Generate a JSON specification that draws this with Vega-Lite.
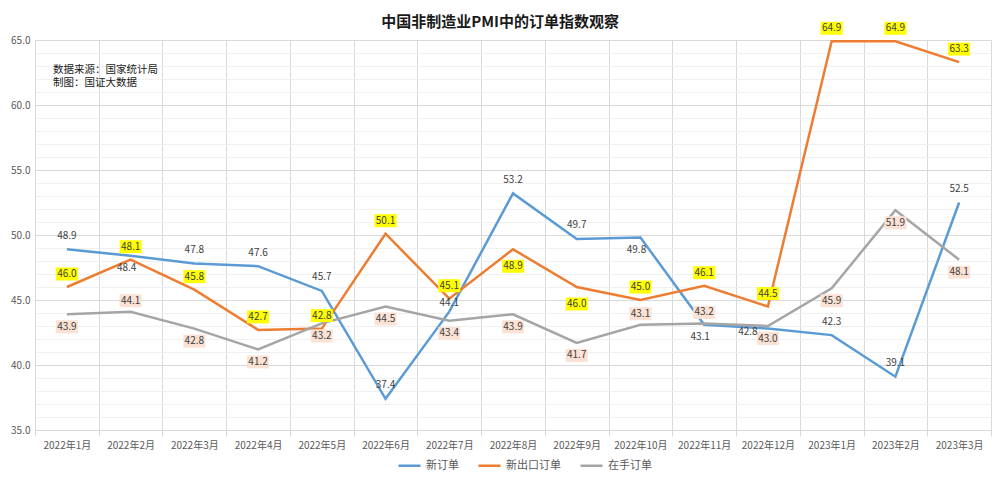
{
  "$schema": "https://vega.github.io/schema/vega-lite/v6.json",
  "width": 956,
  "height": 390,
  "autosize": {"type": "none"},
  "padding": {"left": 35, "top": 40, "right": 9, "bottom": 50},
  "background": "white",
  "title": {
    "text": "中国非制造业PMI中的订单指数观察",
    "font": "Noto Sans CJK SC",
    "fontSize": 15,
    "fontWeight": "bold",
    "color": "#1a1a1a",
    "anchor": "middle",
    "dx": -13,
    "offset": -8
  },
  "config": {
    "font": "Noto Sans CJK SC",
    "view": {"stroke": null},
    "axis": {"labelFont": "Noto Sans CJK SC", "labelColor": "#595959", "labelFontSize": 10}
  },
  "data": {
    "values": [
      {"month": "2022年1月", "series": "新订单", "value": 48.9},
      {"month": "2022年2月", "series": "新订单", "value": 48.4},
      {"month": "2022年3月", "series": "新订单", "value": 47.8},
      {"month": "2022年4月", "series": "新订单", "value": 47.6},
      {"month": "2022年5月", "series": "新订单", "value": 45.7},
      {"month": "2022年6月", "series": "新订单", "value": 37.4},
      {"month": "2022年7月", "series": "新订单", "value": 44.1},
      {"month": "2022年8月", "series": "新订单", "value": 53.2},
      {"month": "2022年9月", "series": "新订单", "value": 49.7},
      {"month": "2022年10月", "series": "新订单", "value": 49.8},
      {"month": "2022年11月", "series": "新订单", "value": 43.1},
      {"month": "2022年12月", "series": "新订单", "value": 42.8},
      {"month": "2023年1月", "series": "新订单", "value": 42.3},
      {"month": "2023年2月", "series": "新订单", "value": 39.1},
      {"month": "2023年3月", "series": "新订单", "value": 52.5},
      {"month": "2022年1月", "series": "新出口订单", "value": 46.0},
      {"month": "2022年2月", "series": "新出口订单", "value": 48.1},
      {"month": "2022年3月", "series": "新出口订单", "value": 45.8},
      {"month": "2022年4月", "series": "新出口订单", "value": 42.7},
      {"month": "2022年5月", "series": "新出口订单", "value": 42.8},
      {"month": "2022年6月", "series": "新出口订单", "value": 50.1},
      {"month": "2022年7月", "series": "新出口订单", "value": 45.1},
      {"month": "2022年8月", "series": "新出口订单", "value": 48.9},
      {"month": "2022年9月", "series": "新出口订单", "value": 46.0},
      {"month": "2022年10月", "series": "新出口订单", "value": 45.0},
      {"month": "2022年11月", "series": "新出口订单", "value": 46.1},
      {"month": "2022年12月", "series": "新出口订单", "value": 44.5},
      {"month": "2023年1月", "series": "新出口订单", "value": 64.9},
      {"month": "2023年2月", "series": "新出口订单", "value": 64.9},
      {"month": "2023年3月", "series": "新出口订单", "value": 63.3},
      {"month": "2022年1月", "series": "在手订单", "value": 43.9},
      {"month": "2022年2月", "series": "在手订单", "value": 44.1},
      {"month": "2022年3月", "series": "在手订单", "value": 42.8},
      {"month": "2022年4月", "series": "在手订单", "value": 41.2},
      {"month": "2022年5月", "series": "在手订单", "value": 43.2},
      {"month": "2022年6月", "series": "在手订单", "value": 44.5},
      {"month": "2022年7月", "series": "在手订单", "value": 43.4},
      {"month": "2022年8月", "series": "在手订单", "value": 43.9},
      {"month": "2022年9月", "series": "在手订单", "value": 41.7},
      {"month": "2022年10月", "series": "在手订单", "value": 43.1},
      {"month": "2022年11月", "series": "在手订单", "value": 43.2},
      {"month": "2022年12月", "series": "在手订单", "value": 43.0},
      {"month": "2023年1月", "series": "在手订单", "value": 45.9},
      {"month": "2023年2月", "series": "在手订单", "value": 51.9},
      {"month": "2023年3月", "series": "在手订单", "value": 48.1}
    ]
  },
  "encoding": {
    "x": {
      "field": "month",
      "type": "nominal",
      "sort": null,
      "scale": {"paddingInner": 0, "paddingOuter": 0},
      "axis": {
        "title": null,
        "labelAngle": 0,
        "tickBand": "extent",
        "grid": true,
        "gridColor": "#d9d9d9",
        "domainColor": "#d9d9d9",
        "tickColor": "#d9d9d9",
        "tickSize": 6,
        "labelPadding": 4
      }
    },
    "y": {
      "field": "value",
      "type": "quantitative",
      "scale": {"domain": [35, 65], "nice": false, "zero": false},
      "axis": {
        "title": null,
        "values": [35,36,37,38,39,40,41,42,43,44,45,46,47,48,49,50,51,52,53,54,55,56,57,58,59,60,61,62,63,64,65],
        "labelExpr": "datum.value % 5 === 0 ? format(datum.value, '.1f') : ''",
        "ticks": false,
        "domain": false,
        "labelPadding": 5,
        "gridColor": {"condition": {"test": "datum.value % 5 === 0", "value": "#d9d9d9"}, "value": "#f0f0f0"}
      }
    }
  },
  "layer": [
    {
      "mark": {"type": "line", "strokeWidth": 2.5},
      "encoding": {
        "color": {
          "field": "series",
          "type": "nominal",
          "scale": {"domain": ["新订单", "新出口订单", "在手订单"], "range": ["#5B9BD5", "#ED7D31", "#A5A5A5"]},
          "legend": {
            "title": null,
            "orient": "none",
            "legendX": 362,
            "legendY": 413,
            "direction": "horizontal",
            "symbolType": "stroke",
            "symbolStrokeWidth": 2.5,
            "symbolSize": 484,
            "labelFontSize": 11,
            "labelColor": "#595959",
            "columnPadding": 14
          }
        }
      }
    },
    {
      "transform": [{"filter": "datum.series === '新出口订单' && indexof(['2022年8月','2022年9月'], datum.month) < 0"}],
      "mark": {"type": "point", "filled": true, "opacity": 1, "fill": "#FFFF00", "strokeWidth": 0, "size": 484, "shape": "M-1,-1.773H1V-0.591H-1Z"}
    },
    {
      "transform": [{"filter": "datum.series === '新出口订单' && indexof(['2022年8月','2022年9月'], datum.month) >= 0"}],
      "mark": {"type": "point", "filled": true, "opacity": 1, "fill": "#FFFF00", "strokeWidth": 0, "size": 484, "shape": "M-1,0.955H1V2.136H-1Z"}
    },
    {
      "transform": [{"filter": "datum.series === '在手订单' && indexof(['2022年2月','2022年10月','2022年11月'], datum.month) < 0"}],
      "mark": {"type": "point", "filled": true, "opacity": 1, "fill": "#FBE2D5", "strokeWidth": 0, "size": 484, "shape": "M-1,0.545H1V1.727H-1Z"}
    },
    {
      "transform": [{"filter": "datum.series === '在手订单' && indexof(['2022年2月','2022年10月','2022年11月'], datum.month) >= 0"}],
      "mark": {"type": "point", "filled": true, "opacity": 1, "fill": "#FBE2D5", "strokeWidth": 0, "size": 484, "shape": "M-1,-1.591H1V-0.409H-1Z"}
    },
    {
      "transform": [{"filter": "datum.series === '新订单' && indexof(['2022年2月','2022年7月','2022年10月','2022年11月','2022年12月'], datum.month) < 0"}],
      "mark": {"type": "text", "fontSize": 10, "color": "#404040", "dy": -13.5, "baseline": "middle"},
      "encoding": {"text": {"field": "value", "type": "quantitative", "format": ".1f"}}
    },
    {
      "transform": [{"filter": "datum.series === '新订单' && datum.month === '2022年7月'"}],
      "mark": {"type": "text", "fontSize": 10, "color": "#404040", "dy": -8.5, "baseline": "middle"},
      "encoding": {"text": {"field": "value", "type": "quantitative", "format": ".1f"}}
    },
    {
      "transform": [{"filter": "datum.series === '新订单' && indexof(['2022年2月','2022年10月','2022年11月'], datum.month) >= 0"}],
      "mark": {"type": "text", "fontSize": 10, "color": "#404040", "dy": 12, "dx": -4, "baseline": "middle"},
      "encoding": {"text": {"field": "value", "type": "quantitative", "format": ".1f"}}
    },
    {
      "transform": [{"filter": "datum.series === '新订单' && datum.month === '2022年12月'"}],
      "mark": {"type": "text", "fontSize": 10, "color": "#404040", "dy": 3, "dx": -20, "baseline": "middle"},
      "encoding": {"text": {"field": "value", "type": "quantitative", "format": ".1f"}}
    },
    {
      "transform": [{"filter": "datum.series === '新出口订单' && indexof(['2022年8月','2022年9月'], datum.month) < 0"}],
      "mark": {"type": "text", "fontSize": 10, "color": "#404040", "dy": -13, "baseline": "middle"},
      "encoding": {"text": {"field": "value", "type": "quantitative", "format": ".1f"}}
    },
    {
      "transform": [{"filter": "datum.series === '新出口订单' && indexof(['2022年8月','2022年9月'], datum.month) >= 0"}],
      "mark": {"type": "text", "fontSize": 10, "color": "#404040", "dy": 17, "baseline": "middle"},
      "encoding": {"text": {"field": "value", "type": "quantitative", "format": ".1f"}}
    },
    {
      "transform": [{"filter": "datum.series === '在手订单' && indexof(['2022年2月','2022年10月','2022年11月'], datum.month) < 0"}],
      "mark": {"type": "text", "fontSize": 10, "color": "#404040", "dy": 12.5, "baseline": "middle"},
      "encoding": {"text": {"field": "value", "type": "quantitative", "format": ".1f"}}
    },
    {
      "transform": [{"filter": "datum.series === '在手订单' && indexof(['2022年2月','2022年10月','2022年11月'], datum.month) >= 0"}],
      "mark": {"type": "text", "fontSize": 10, "color": "#404040", "dy": -11, "baseline": "middle"},
      "encoding": {"text": {"field": "value", "type": "quantitative", "format": ".1f"}}
    },
    {
      "data": {"values": [{"note": "数据来源：国家统计局", "ny": 62.7}, {"note": "制图：国证大数据", "ny": 61.7}]},
      "mark": {"type": "text", "fontSize": 10.5, "color": "#1a1a1a", "align": "left", "baseline": "middle", "dx": 18},
      "encoding": {
        "x": {"datum": "2022年1月", "type": "nominal", "bandPosition": 0},
        "y": {"field": "ny", "type": "quantitative"},
        "text": {"field": "note", "type": "nominal"}
      }
    }
  ]
}
